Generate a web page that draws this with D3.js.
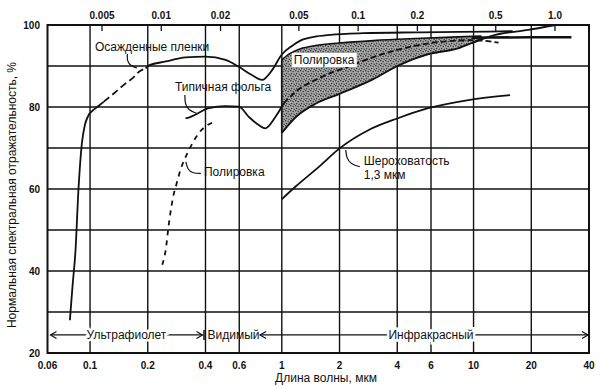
<!DOCTYPE html>
<html>
<head>
<meta charset="utf-8">
<script src="https://cdn.jsdelivr.net/npm/d3@7"></script>
<style>
  body { margin: 0; background: #fff; }
  svg { display: block; font-family: "Liberation Sans", Arial, sans-serif; }
  .tk { font-family: "Liberation Sans Narrow", "Liberation Sans", Arial, sans-serif; font-weight: bold; font-size: 10px; fill: #111; }
  .lbl { font-size: 12px; fill: #111; }
</style>
</head>
<body>
<div id="chart"></div>
<script>
// axis ticks
var xTicks   = [0.06, 0.1, 0.2, 0.4, 0.6, 1, 2, 4, 6, 10, 20, 40];
var topTicks = [0.005, 0.01, 0.02, 0.05, 0.1, 0.2, 0.5, 1.0];
var yGrid    = [30, 40, 50, 60, 70, 80, 90];
var yLabels  = [20, 40, 60, 80, 100];

// [wavelength um, reflectance %]
var filmsUV     = [[0.0785,28],[0.081,36.2],[0.084,45.1],[0.087,59.8],[0.0906,71],[0.094,75.6],[0.0977,77.8],[0.105,79.4],[0.111,80.3],[0.118,81.3]];
var filmsDashed = [[0.118,81.3],[0.133,83.3],[0.150,85.4],[0.170,87.4],[0.180,88.6],[0.195,89.4]];
var films       = [[0.195,89.4],[0.2,90],[0.248,91.1],[0.315,92.1],[0.40,92.3],[0.509,91.5],[0.597,89.8],[0.698,87.8],[0.789,86.6],[0.89,89],[1.0,92.8],[1.13,94.9],[1.25,96.2],[1.47,97.1],[1.79,97.6],[2.67,98],[5,98.2],[8.35,98.3],[12,98.4],[16,98.5]];
var foil        = [[0.315,77.2],[0.335,77.6],[0.417,79.7],[0.509,80.2],[0.597,80.1],[0.673,77.6],[0.758,75.6],[0.822,74.8],[0.927,77.6],[1.024,80.9]];
var foilBand    = [[1.024,80.9],[1.18,83.7],[1.56,87],[2.32,90.2],[3.46,93.1],[5.17,95.1],[9.8,96.3],[13.5,95.7]];
var foilFlat    = [[9.8,96.9],[20,97],[32.4,97]];
var polishTop   = [[1,91.5],[1.1,93],[1.25,94.2],[1.5,95],[2,95.6],[3,96.2],[5,96.7],[8.3,97.1],[11,97.3]];
var polishLow   = [[1,73.7],[1.2,77.8],[1.5,80.8],[2,83.2],[3,86.8],[4,90],[5.8,92.9],[8.3,94.3],[9.8,95.6],[11,96.6]];
var polishRise  = [[9.8,95.6],[13,97.6],[19.3,98.8],[26.7,100]];
var polishUV    = [[0.238,41.5],[0.248,45.1],[0.258,51.7],[0.274,59],[0.28,60.6],[0.296,64.6],[0.328,69.5],[0.369,73.6],[0.443,76.4]];
var rough       = [[1.0,57.5],[1.18,60.6],[1.56,65.4],[2,69.9],[2.84,74.4],[4,77.2],[5.8,79.7],[9.4,81.7],[15.5,82.9]];

// annotations: text, wavelength, reflectance
var notes = [
  ["Осажденные пленки", 0.1061, 93.66],
  ["Типичная фольга",   0.277,  83.9],
  ["Полировка",         0.3925, 63.17],
  ["Шероховатость",     2.676,  65.85],
  ["1,3 мкм",           2.676,  62.44]
];
var leaders = [
  [[0.1567,92.93],[0.1557,91.22],[0.1634,90.0],[0.1756,89.51]],
  [[0.3124,82.93],[0.3124,80.9],[0.325,79.27],[0.3594,78.46]],
  [[0.316,66.6],[0.3239,64.63],[0.3439,63.83],[0.3785,63.78]],
  [[2.157,69.51],[2.175,67.56],[2.29,66.1],[2.55,65.44]]
];
var bandLabel = ["Полировка", 1.155, 90.49];

// spectral regions
var regionNames = ["Ультрафиолет", "Видимый", "Инфракрасный"];
var regionEdges = [0.06, 0.4, 0.77, 40];
var regionLevel = 24.4;

var width = 600, height = 386;

var x = d3.scaleLog().domain([0.06, 40]).range([47.5, 589]);
var y = d3.scaleLinear().domain([20, 100]).range([353, 25]);
var xTop = d3.scaleLog().domain([0.005, 1]).range([102, 555]);

var svg = d3.select("#chart").append("svg")
    .attr("width", width)
    .attr("height", height);

svg.append("rect").attr("width", width).attr("height", height).attr("fill", "#fff");

// stipple for the polished band
var pat = svg.append("defs").append("pattern")
    .attr("id", "stip")
    .attr("width", 5).attr("height", 5)
    .attr("patternUnits", "userSpaceOnUse");
pat.append("rect").attr("width", 5).attr("height", 5).attr("fill", "#ababab");
pat.selectAll("circle")
    .data([[0.7,0.7],[3.2,1.6],[1.6,3.6],[4.2,4.2]])
  .enter().append("circle")
    .attr("cx", function (d) { return d[0]; })
    .attr("cy", function (d) { return d[1]; })
    .attr("r", 0.8)
    .attr("fill", "#3a3a3a");

// grid
svg.append("g").selectAll("line")
    .data(xTicks.slice(1, -1))
  .enter().append("line")
    .attr("x1", function (d) { return x(d); })
    .attr("x2", function (d) { return x(d); })
    .attr("y1", y(100)).attr("y2", y(20))
    .attr("stroke", "#111").attr("stroke-width", 1.4);

svg.append("g").selectAll("line")
    .data(yGrid)
  .enter().append("line")
    .attr("x1", x(0.06)).attr("x2", x(40))
    .attr("y1", function (d) { return y(d); })
    .attr("y2", function (d) { return y(d); })
    .attr("stroke", "#111").attr("stroke-width", 1.4);

// top small ticks
svg.append("g").selectAll("line")
    .data(topTicks)
  .enter().append("line")
    .attr("x1", function (d) { return xTop(d); })
    .attr("x2", function (d) { return xTop(d); })
    .attr("y1", y(100)).attr("y2", y(100) + 6)
    .attr("stroke", "#111").attr("stroke-width", 1.3);

// tick labels
svg.append("g").selectAll("text")
    .data(xTicks)
  .enter().append("text")
    .attr("class", "tk")
    .attr("x", function (d) { return x(d); })
    .attr("y", 369)
    .attr("text-anchor", "middle")
    .text(function (d) { return d; });

svg.append("g").selectAll("text")
    .data(topTicks)
  .enter().append("text")
    .attr("class", "tk")
    .attr("x", function (d) { return xTop(d); })
    .attr("y", 19)
    .attr("text-anchor", "middle")
    .text(function (d) { return d === 1 ? "1.0" : d; });

svg.append("g").selectAll("text")
    .data(yLabels)
  .enter().append("text")
    .attr("class", "tk")
    .attr("x", 40)
    .attr("y", function (d) { return y(d) + 4; })
    .attr("text-anchor", "end")
    .text(function (d) { return d; });

// polished band
var band = d3.area()
    .x(function (d) { return x(d[0]); })
    .y0(function (d) { return y(d[1]); })
    .y1(function (d) { return y(d[2]); })
    .curve(d3.curveMonotoneX);

var lowAt = d3.scaleLog()
    .domain(polishLow.map(function (p) { return p[0]; }))
    .range(polishLow.map(function (p) { return p[1]; }));

var bandData = polishTop.map(function (d) { return [d[0], lowAt(d[0]), d[1]]; });

svg.append("path")
    .attr("d", band(bandData))
    .attr("fill", "url(#stip)")
    .attr("stroke", "none");

var line = d3.line()
    .x(function (d) { return x(d[0]); })
    .y(function (d) { return y(d[1]); })
    .curve(d3.curveMonotoneX);

function curve(data, w, dash) {
  svg.append("path")
      .attr("d", line(data))
      .attr("fill", "none")
      .attr("stroke", "#111")
      .attr("stroke-width", w)
      .attr("stroke-dasharray", dash || null)
      .attr("stroke-linejoin", "round");
}

// band left edge
curve([[1, 73.7], [1, 91.5]], 1.8);

curve(filmsUV, 1.8);
curve(filmsDashed, 1.8, "7,4");
curve(films, 1.8);
curve(foil, 1.8);
curve(foilBand, 1.8, "6,3");
curve(foilFlat, 2.6);
curve(polishTop, 1.6);
curve(polishLow, 1.8);
curve(polishRise, 1.8);
curve(polishUV, 1.8, "5,5");
curve(rough, 1.8);

// border
svg.append("rect")
    .attr("x", x(0.06)).attr("y", y(100))
    .attr("width", x(40) - x(0.06))
    .attr("height", y(20) - y(100))
    .attr("fill", "none")
    .attr("stroke", "#111")
    .attr("stroke-width", 2);

// leaders
var lead = d3.line()
    .x(function (d) { return x(d[0]); })
    .y(function (d) { return y(d[1]); })
    .curve(d3.curveBasis);

svg.append("g").selectAll("path")
    .data(leaders)
  .enter().append("path")
    .attr("d", lead)
    .attr("fill", "none")
    .attr("stroke", "#111")
    .attr("stroke-width", 1.2);

// annotations
svg.append("g").selectAll("text")
    .data(notes)
  .enter().append("text")
    .attr("class", "lbl")
    .attr("x", function (d) { return x(d[1]); })
    .attr("y", function (d) { return y(d[2]); })
    .text(function (d) { return d[0]; });

var bl = svg.append("text")
    .attr("class", "lbl")
    .attr("x", x(bandLabel[1]))
    .attr("y", y(bandLabel[2]))
    .text(bandLabel[0]);
var bb = bl.node().getBBox();
svg.insert("rect", function () { return bl.node(); })
    .attr("x", bb.x - 2).attr("y", bb.y)
    .attr("width", bb.width + 4).attr("height", bb.height)
    .attr("fill", "#fff");

// spectral region arrows
var ry = y(regionLevel);
var g = svg.append("g").attr("stroke", "#111").attr("stroke-width", 1.2).attr("fill", "none");

function arrowHead(px, dir) {
  g.append("path").attr("d", "M" + (px + dir * 6) + "," + (ry - 3.5) + "L" + px + "," + ry + "L" + (px + dir * 6) + "," + (ry + 3.5));
}

var uv0 = x(regionEdges[0]) + 3, uv1 = x(regionEdges[1]) - 3;
g.append("line").attr("x1", uv0).attr("x2", uv1).attr("y1", ry).attr("y2", ry);
arrowHead(uv0, 1);
arrowHead(uv1, -1);
g.append("line").attr("x1", uv1 + 1.5).attr("x2", uv1 + 1.5).attr("y1", ry - 5).attr("y2", ry + 5).attr("stroke-width", 1.5);

var ir0 = x(regionEdges[2]), ir1 = x(regionEdges[3]) - 1;
g.append("line").attr("x1", ir0).attr("x2", ir1).attr("y1", ry).attr("y2", ry);
arrowHead(ir0, 1);
arrowHead(ir1, -1);

svg.append("text")
    .attr("class", "lbl")
    .attr("x", (uv0 + uv1) / 2)
    .attr("y", ry + 4)
    .attr("text-anchor", "middle")
    .attr("stroke", "#fff").attr("stroke-width", 5)
    .style("paint-order", "stroke")
    .text(regionNames[0]);

svg.append("text")
    .attr("class", "lbl")
    .attr("x", x(regionEdges[1]) + 2)
    .attr("y", ry + 4)
    .text(regionNames[1]);

svg.append("text")
    .attr("class", "lbl")
    .attr("x", x(6))
    .attr("y", ry + 4)
    .attr("text-anchor", "middle")
    .attr("stroke", "#fff").attr("stroke-width", 5)
    .style("paint-order", "stroke")
    .text(regionNames[2]);

// axis titles
svg.append("text")
    .attr("class", "lbl")
    .attr("x", 326)
    .attr("y", 382)
    .attr("text-anchor", "middle")
    .text("Длина волны, мкм");

svg.append("text")
    .attr("class", "lbl")
    .attr("transform", "translate(16,195) rotate(-90)")
    .attr("text-anchor", "middle")
    .text("Нормальная спектральная отражательность, %");
</script>
</body>
</html>
